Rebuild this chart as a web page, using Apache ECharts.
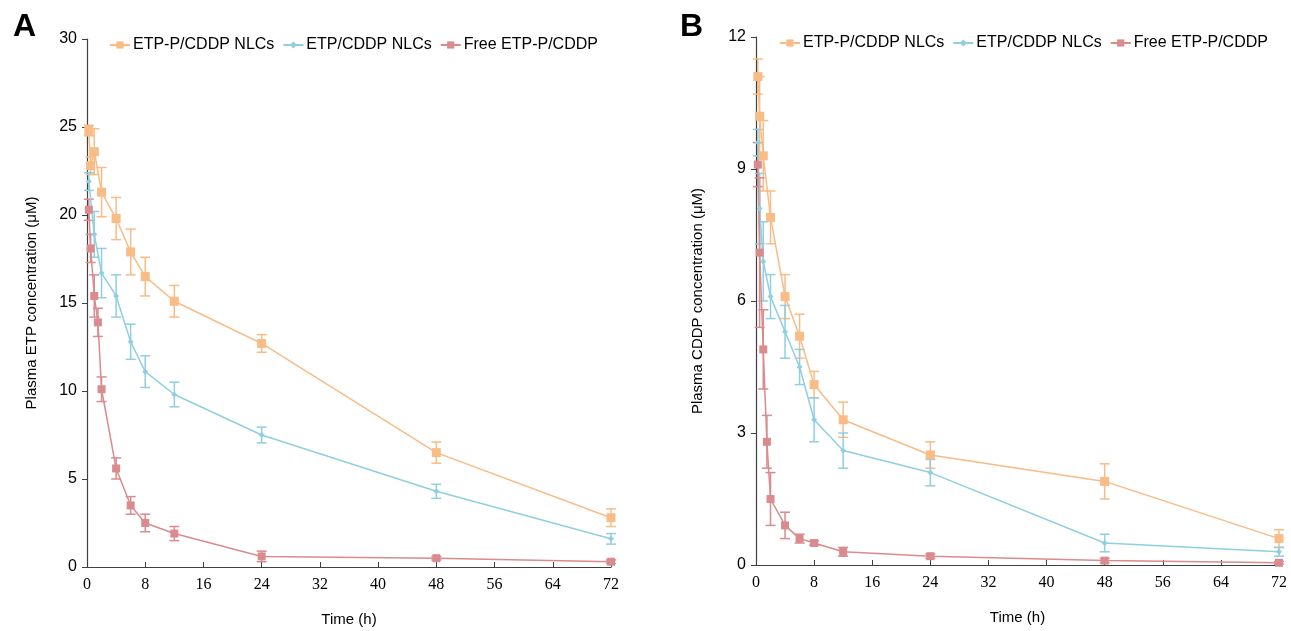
<!DOCTYPE html>
<html>
<head>
<meta charset="utf-8">
<script src="https://cdn.jsdelivr.net/npm/echarts@6/dist/echarts.min.js"></script>
<style>
  html, body { margin: 0; padding: 0; background: #fff; }
  #chart { width: 1291px; height: 631px; }
</style>
</head>
<body>
<div id="chart"></div>
<script>
// sampling times (h)
const timesH = [0.25, 0.5, 1, 1.5, 2, 4, 6, 8, 12, 24, 48, 72];
const seriesNames = ["ETP-P/CDDP NLCs", "ETP/CDDP NLCs", "Free ETP-P/CDDP"];

// panel A: plasma ETP (uM)
const etpNlcA = [24.8, 22.8, 23.6, null, 21.3, 19.8, 17.9, 16.5, 15.1, 12.7, 6.5, 2.8];
const etpNlcErrA = [0.3, 0.5, 1.3, null, 1.4, 1.2, 1.3, 1.1, 0.9, 0.5, 0.6, 0.5];
const plainNlcA = [21.9, null, 18.9, null, 16.7, 15.4, 12.8, 11.1, 9.8, 7.5, 4.3, 1.6];
const plainNlcErrA = [0.5, null, 1.3, null, 1.4, 1.2, 1.0, 0.9, 0.7, 0.45, 0.4, 0.3];
const freeA = [20.3, 18.1, 15.4, 13.9, 10.1, 5.6, 3.5, 2.5, 1.9, 0.6, 0.5, 0.3];
const freeErrA = [0.6, 0.8, 1.2, 0.8, 0.7, 0.6, 0.5, 0.5, 0.4, 0.3, 0.1, 0.1];

// panel B: plasma CDDP (uM)
const etpNlcB = [11.1, 10.2, 9.3, null, 7.9, 6.1, 5.2, 4.1, 3.3, 2.5, 1.9, 0.6];
const etpNlcErrB = [0.4, 0.9, 0.8, null, 0.6, 0.5, 0.5, 0.3, 0.4, 0.3, 0.4, 0.2];
const plainNlcB = [9.6, 8.1, 6.9, null, 6.1, 5.3, 4.5, 3.3, 2.6, 2.1, 0.5, 0.3];
const plainNlcErrB = [0.3, 0.8, 0.9, null, 0.5, 0.6, 0.4, 0.5, 0.4, 0.3, 0.2, 0.1];
const freeB = [9.1, 7.1, 4.9, 2.8, 1.5, 0.9, 0.6, 0.5, 0.3, 0.2, 0.1, 0.05];
const freeErrB = [0.5, 1.7, 0.9, 0.6, 0.6, 0.3, 0.1, 0.05, 0.1, 0.05, 0.05, 0.03];

const colors = ["#F8BC86", "#8FCFDF", "#D98B8D"];
const symbols = ["rect", "diamond", "rect"];
const symbolSizes = [9, 6, 8];

let myChart = echarts.init(document.getElementById("chart"));

function points(vals) {
  let out = [];
  timesH.forEach((t, i) => { if (vals[i] != null) out.push([t, vals[i]]); });
  return out;
}
function errPoints(vals, errs) {
  let out = [];
  timesH.forEach((t, i) => { if (vals[i] != null && errs[i] != null) out.push([t, vals[i], errs[i]]); });
  return out;
}

// I-shaped error bar drawn from value +/- sd
function errorBars(color) {
  return function (params, api) {
    let x = api.value(0), y = api.value(1), e = api.value(2);
    let top = api.coord([x, y + e]);
    let bot = api.coord([x, Math.max(y - e, 0)]);
    let half = 5;
    let style = { stroke: color, lineWidth: 1.5 };
    return {
      type: "group",
      children: [
        { type: "line", shape: { x1: top[0], y1: top[1], x2: bot[0], y2: bot[1] }, style: style },
        { type: "line", shape: { x1: top[0] - half, y1: top[1], x2: top[0] + half, y2: top[1] }, style: style },
        { type: "line", shape: { x1: bot[0] - half, y1: bot[1], x2: bot[0] + half, y2: bot[1] }, style: style }
      ]
    };
  };
}

let series = [];
const panels = [
  [[etpNlcA, etpNlcErrA], [plainNlcA, plainNlcErrA], [freeA, freeErrA]],
  [[etpNlcB, etpNlcErrB], [plainNlcB, plainNlcErrB], [freeB, freeErrB]]
];
panels.forEach((panel, p) => {
  panel.forEach((pair, k) => {
    series.push({
      type: "custom",
      xAxisIndex: p,
      yAxisIndex: p,
      renderItem: errorBars(colors[k]),
      encode: { x: 0, y: 1 },
      data: errPoints(pair[0], pair[1]),
      z: 2,
      silent: true
    });
  });
  panel.forEach((pair, k) => {
    series.push({
      name: seriesNames[k],
      type: "line",
      xAxisIndex: p,
      yAxisIndex: p,
      data: points(pair[0]),
      symbol: symbols[k],
      symbolSize: symbolSizes[k],
      color: colors[k],
      lineStyle: { width: 1.5 },
      z: 3
    });
  });
});

const axisColor = "#404040";
function xAxisCfg(grid) {
  return {
    type: "value",
    gridIndex: grid,
    min: 0,
    max: 72,
    interval: 8,
    name: "Time (h)",
    nameLocation: "middle",
    nameGap: 45,
    nameTextStyle: { fontFamily: "Liberation Sans", fontSize: 15, color: "#000" },
    axisLine: { show: true, lineStyle: { color: axisColor, width: 1.2 } },
    axisTick: { show: true, inside: true, length: 5, lineStyle: { color: axisColor } },
    axisLabel: { fontFamily: "Liberation Serif", fontSize: 16, color: "#000", margin: 10 },
    splitLine: { show: false }
  };
}
function yAxisCfg(grid, max, interval, name, gap) {
  return {
    type: "value",
    gridIndex: grid,
    min: 0,
    max: max,
    interval: interval,
    name: name,
    nameLocation: "middle",
    nameGap: gap,
    nameTextStyle: { fontFamily: "Liberation Sans", fontSize: 15, color: "#000" },
    axisLine: { show: true, lineStyle: { color: axisColor, width: 1.2 } },
    axisTick: { show: true, inside: false, length: 5, lineStyle: { color: axisColor } },
    axisLabel: { fontFamily: "Liberation Sans", fontSize: 16, color: "#000", margin: 10 },
    splitLine: { show: false }
  };
}

function legendCfg(left, top) {
  return {
    data: seriesNames,
    left: left,
    top: top,
    width: 560,
    itemWidth: 20,
    itemHeight: 9,
    itemGap: 8,
    textStyle: { fontFamily: "Liberation Sans", fontSize: 16, color: "#000", padding: [0, 0, 0, -2] }
  };
}

let option = {
  animation: false,
  title: [
    { text: "A", left: 8, top: 6, textStyle: { fontFamily: "Liberation Sans", fontSize: 32, fontWeight: "bold", color: "#000" } },
    { text: "B", left: 675, top: 6, textStyle: { fontFamily: "Liberation Sans", fontSize: 32, fontWeight: "bold", color: "#000" } }
  ],
  legend: [legendCfg(104, 32), legendCfg(774, 30)],
  grid: [
    { left: 87, top: 39, width: 524, height: 528, outerBoundsMode: "none", containLabel: false },
    { left: 756, top: 37, width: 523, height: 528, outerBoundsMode: "none", containLabel: false }
  ],
  xAxis: [xAxisCfg(0), xAxisCfg(1)],
  yAxis: [
    yAxisCfg(0, 30, 5, "Plasma ETP concentration (μM)", 48),
    yAxisCfg(1, 12, 3, "Plasma CDDP concentration (μM)", 51)
  ],
  series: series
};

myChart.setOption(option);
</script>
</body>
</html>
